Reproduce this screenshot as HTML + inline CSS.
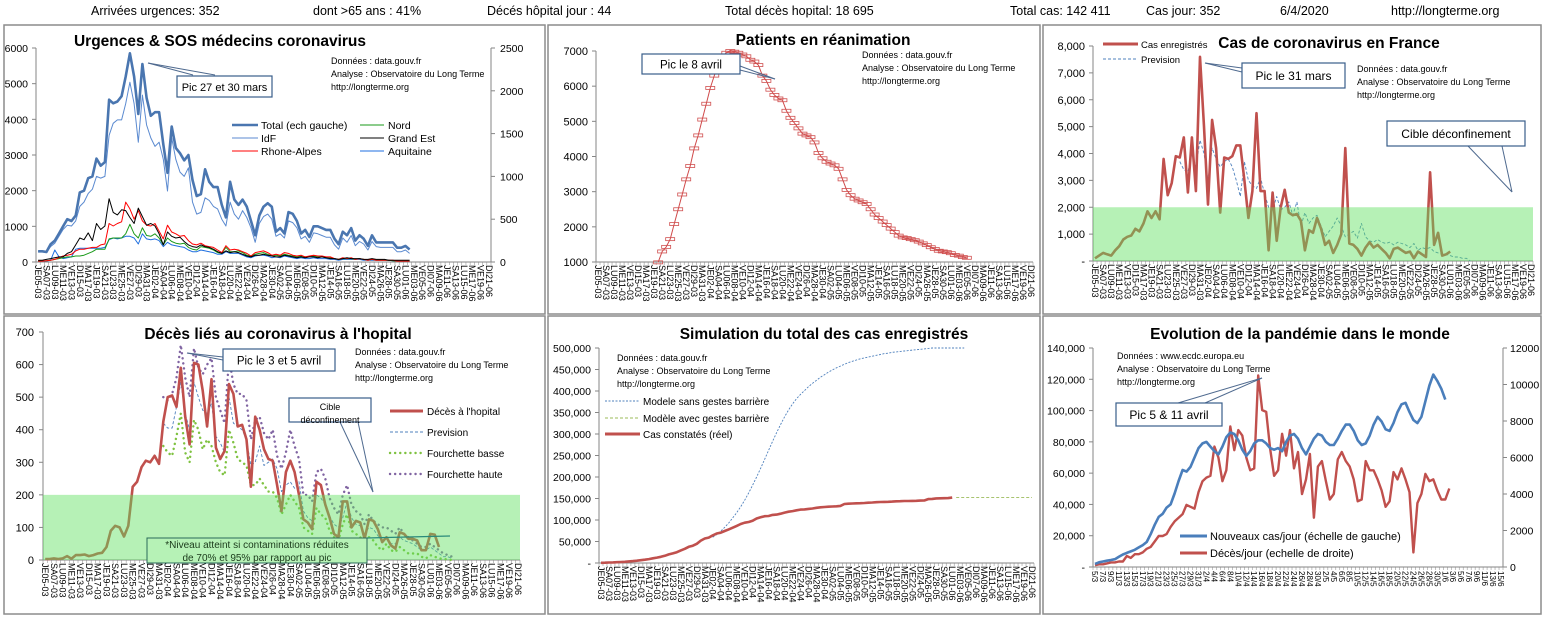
<!DOCTYPE html>
<html><head><meta charset="utf-8"><style>
html,body{margin:0;padding:0;background:#fff;}
svg{display:block;font-family:"Liberation Sans",sans-serif;}
</style></head><body>
<svg id="s" width="1546" height="619" viewBox="0 0 1546 619" xmlns="http://www.w3.org/2000/svg">
<g font-size="12.5" fill="#000">
<text x="91" y="15">Arrivées urgences:  352</text>
<text x="313" y="15">dont &gt;65 ans : 41%</text>
<text x="487" y="15">Décés hôpital jour :  44</text>
<text x="725" y="15">Total décès hopital:  18 695</text>
<text x="1010" y="15">Total cas:  142 411</text>
<text x="1146" y="15">Cas jour:  352</text>
<text x="1280" y="15">6/4/2020</text>
<text x="1391" y="15">http://longterme.org</text>
</g>
</svg>
<script>
// ---------- data ----------
const dayNames=["DI","LU","MA","ME","JE","VE","SA"];
const nDays=109;
const urgTotal=[300,300,280,500,600,800,1000,1200,1150,1300,1950,2000,2350,2400,2900,2700,2800,4550,4450,4500,4650,5200,5850,5200,4150,5550,4600,4100,4200,4200,3300,2500,3800,3200,3050,2850,3000,2300,1850,1900,2600,2250,2100,2100,1600,1250,2250,1750,1600,1750,1550,1150,750,1300,1550,1650,1550,850,950,800,1400,1350,1150,800,900,700,1000,1000,950,900,900,650,500,850,750,950,600,750,650,450,750,550,550,550,550,550,400,400,450,350];
const urgIdf=[120,120,110,180,220,300,380,430,420,480,650,700,800,850,1000,980,1000,1480,1620,1660,1660,1850,2100,1850,1400,1950,1600,1450,1350,1400,1200,830,1450,1200,1050,1000,1100,700,560,580,750,720,650,620,500,420,700,560,500,600,520,400,230,450,530,560,500,300,330,280,480,460,400,270,300,230,340,330,310,290,290,200,150,280,230,310,190,240,210,140,240,180,170,170,170,170,120,120,140,100];
const urgRhone=[10,10,15,20,30,50,70,80,90,130,150,150,160,170,170,200,210,450,420,450,470,700,620,500,600,480,430,420,450,360,270,430,350,330,300,310,250,210,200,220,190,180,170,140,110,190,140,150,140,120,100,70,110,120,130,110,80,90,80,110,100,80,70,80,60,70,80,70,70,60,60,40,30,50,40,50,30,40,30,20,30,20,20,20,20,20,10,10,10,10];
const urgGrandEst=[20,20,30,40,50,60,60,100,120,200,280,260,340,250,450,380,420,740,580,550,610,600,520,450,630,530,430,450,420,330,200,350,300,280,290,240,200,180,170,200,180,170,150,120,100,130,110,120,110,90,70,60,80,80,90,80,70,60,60,80,70,60,50,60,50,60,60,50,60,50,40,40,30,40,50,40,40,40,30,30,40,30,30,30,20,20,20,20,20,20];
const urgNord=[10,10,15,20,30,40,50,60,60,70,70,80,100,120,150,150,150,270,280,280,280,330,440,330,280,400,310,300,330,280,200,280,240,220,210,220,170,150,140,180,170,160,140,110,100,170,120,120,130,110,80,70,90,100,110,90,70,80,70,90,80,70,60,70,60,60,70,60,60,50,50,40,30,40,40,40,30,40,30,20,30,20,20,20,20,15,10,10,10,10];
const urgAquitaine=[10,10,10,20,140,60,40,50,60,150,160,160,160,160,160,160,170,260,280,270,280,300,300,280,210,330,270,260,270,250,180,230,200,190,180,170,140,120,120,140,130,120,110,90,90,120,100,100,100,80,60,50,70,80,80,70,50,60,50,70,60,50,40,50,40,40,50,40,40,40,30,30,20,30,30,30,30,30,20,20,20,20,20,20,20,15,10,10,10,10];
const reaStart=15;
const reaVals=[990,1300,1430,1650,2080,2500,2920,3350,3730,4230,4600,5050,5500,5950,6300,6600,6850,6950,7000,6980,6950,6900,6850,6750,6700,6600,6300,6150,5900,5750,5650,5600,5300,5100,4950,4800,4650,4600,4550,4400,4100,3950,3850,3800,3750,3650,3350,3050,2900,2800,2750,2700,2650,2500,2350,2250,2150,2050,1950,1850,1750,1700,1680,1650,1620,1580,1530,1480,1420,1370,1320,1300,1280,1250,1200,1180,1140,1120];
const casVals=[100,200,300,250,200,400,550,800,900,950,1200,1100,1400,1850,1600,1850,1550,3800,2450,2900,3900,3850,4600,2550,4600,2600,7600,5000,2100,5250,4200,1800,3850,3800,3900,4300,4300,3000,1600,2600,5500,2600,2600,400,2550,750,2000,2650,1800,1700,1750,1500,400,1150,1050,1600,1200,600,750,300,600,1000,4200,650,600,450,200,500,700,500,600,450,300,100,450,500,400,300,350,100,350,250,150,3300,600,1050,200,250,350];
const casPrevStart=21;
const casPrev=[3700,3400,3300,4000,3500,4500,4000,3000,4200,3800,3500,3700,3800,3500,3000,2400,3700,3000,2800,2700,3100,2500,2000,1900,2400,1900,2000,2200,1700,2200,1300,1800,1400,1600,1700,1300,900,1100,1300,1600,1300,900,1000,1100,850,1400,900,750,700,800,700,650,700,600,700,650,600,500,650,400,500,450,500,350,300,250,250,200,150,150,100,100,0];
const decesVals=[3,3,5,3,5,12,4,15,15,17,12,15,20,22,40,90,105,100,72,105,225,240,285,305,300,320,295,425,500,505,470,590,440,355,605,600,520,410,555,345,310,335,540,510,410,415,370,225,440,400,340,310,305,230,150,270,305,270,200,125,115,95,240,230,170,130,80,70,180,180,100,120,115,65,125,120,95,55,70,45,35,85,80,65,65,60,30,30,80,78,40];
const decesBandStart=27;
const decesPrev=[420,405,405,470,545,450,400,545,500,460,450,480,380,360,330,500,420,410,400,370,290,300,350,290,300,310,280,210,230,240,220,240,150,130,120,200,190,170,135,110,100,130,180,130,110,105,80,100,95,75,60,70,50,50,70,60,55,50,40,30,30,40,30,20,10,10,5];
const decesBasse=[350,330,320,380,450,330,300,430,400,340,370,350,300,270,260,400,360,310,300,290,230,230,250,230,210,210,190,140,170,200,180,160,100,90,80,160,140,130,90,70,60,110,140,90,80,70,50,70,60,40,30,50,30,25,40,30,20,20,20,10,5,15,10,5,3,2,0];
const decesHaute=[500,490,510,560,660,560,500,650,590,570,600,620,500,460,420,620,540,510,510,490,370,430,440,390,370,400,320,280,330,400,350,310,200,200,180,270,280,250,190,160,140,200,230,170,150,140,110,140,120,110,100,100,90,80,100,80,70,60,50,40,40,50,40,30,20,15,10];
const simReel=[400,700,1100,1400,1800,2300,2900,3700,4500,5400,6600,7700,9100,10900,12600,14500,16700,19900,22300,25200,29200,33000,37600,40200,44600,52100,56900,59100,64300,68600,70500,74400,78200,82000,86300,90600,93800,95400,98100,103600,106200,108800,109300,111800,112600,114700,117300,119200,120800,122500,124100,124600,125800,126800,128400,129600,130200,130900,131300,131900,132900,137100,137800,138400,138900,139100,139500,140200,140700,141300,141900,142000,142400,142900,143400,143800,144100,144200,144500,144600,145000,145300,148600,149100,150200,150400,150700,151000,152000];
const simSansStart=28;
const simSans=[60000,66000,74000,83000,93000,105000,117000,131000,146000,163000,181000,200000,220000,241000,262000,283000,303000,322000,340000,356000,370000,382000,392000,401000,410000,418000,425000,432000,438000,444000,449000,454000,458000,462000,466000,469000,472000,475000,477000,479000,481000,483000,485000,487000,488000,490000,491000,492000,493000,494000,495000,496000,497000,498000,499000,500000,500000,500000,500000,500000,500000,500000,500000,500000];
const simAvecStart=89;
const simAvec=[152000,152000,152000,152000,152000,152000,152000,152000,152000,152000,152000,152000,152000,152000,152000,152000,152000,152000,152000,152000];
const mondeDays=103;
const mondeCas=[2000,3000,3500,4000,4500,5000,6500,8000,9000,10000,11000,12500,14000,16000,21000,27000,32000,34000,38000,40000,47000,55000,62000,61000,64000,70000,76000,79000,80000,77000,74000,72000,77000,83000,86000,85000,81000,75000,71000,74000,79000,81000,81000,79000,76000,75000,76000,74000,80000,84000,85000,82000,76000,72000,77000,82000,85000,84000,80000,78000,78000,82000,87000,91000,91000,87000,81000,78000,79000,84000,91000,96000,93000,88000,87000,92000,99000,104000,105000,99000,94000,92000,96000,106000,116000,123000,119000,114000,107000];
const mondeDeces=[100,150,150,200,250,250,300,300,600,500,700,700,800,1000,1100,1400,1700,1700,1800,2200,2500,2700,2900,3400,3300,3200,4100,4700,4900,5000,6600,6000,4700,5300,7700,6400,7500,7200,6000,5300,5400,10500,8600,8500,6500,5000,5300,7300,6100,7500,5400,6300,4000,4800,6200,2700,5500,5800,4700,3700,4000,5900,6300,5800,5500,4800,3600,3700,5800,5300,5300,4800,4200,3300,3600,5200,4800,5400,4800,4100,800,3500,4000,5100,4700,4800,4200,3700,3700,4300];

// ---------- helpers ----------
const svg=document.getElementById('s');
const NS="http://www.w3.org/2000/svg";
function el(tag,attrs,parent,txt){const e=document.createElementNS(NS,tag);for(const k in attrs)e.setAttribute(k,attrs[k]);if(txt!==undefined)e.textContent=txt;(parent||svg).appendChild(e);return e;}
function grp(name){const g=el('g',{});return g;}
function fmt(v){return v.toString().replace(/\B(?=(\d{3})+(?!\d))/g,",");}
function X(p,i){return p.x0+(i+0.5)*(p.x1-p.x0)/p.n;}
function Y(p,v,ax){const a=ax||p.l;return p.yb-(v-a.min)/(a.max-a.min)*(p.yb-p.yt);}
function series(p,vals,start,ax,attrs,name){
  let d="";vals.forEach((v,i)=>{d+=(i?"L":"M")+X(p,start+i).toFixed(1)+","+Y(p,v,ax).toFixed(1);});
  const a=Object.assign({d:d,fill:"none","stroke-linejoin":"round"},attrs);
  const e=el('path',a,p.g);
  
  
  return e;
}
function frame(name,x,y,w,h){const g=grp(name);
  const r=el('rect',{x:x,y:y,width:w,height:h,fill:"#fff",stroke:"#8c8c8c","stroke-width":1.5},g);
  return g;}
function axes(p,name,opts){
  const g=p.g;
  const ax=el('line',{x1:p.x0,y1:p.yt,x2:p.x0,y2:p.yb,stroke:"#868686"},g);
  
  const bx=el('line',{x1:p.x0,y1:p.yb,x2:p.x1,y2:p.yb,stroke:"#868686"},g);
  
  for(let v=p.l.min;v<=p.l.max+1e-6;v+=p.l.step){
    const y=Y(p,v);
    el('line',{x1:p.x0-4,y1:y,x2:p.x0,y2:y,stroke:"#868686"},g);
    const t=el('text',{x:p.x0-opts.lpad,y:y+4,"text-anchor":"end","font-size":opts.fs||11},g,opts.lfmt(v));
    
  }
  if(p.r){
    const rx=el('line',{x1:p.x1,y1:p.yt,x2:p.x1,y2:p.yb,stroke:"#868686"},g);
    
    for(let v=p.r.min;v<=p.r.max+1e-6;v+=p.r.step){
      const y=Y(p,v,p.r);
      el('line',{x1:p.x1,y1:y,x2:p.x1+4,y2:y,stroke:"#868686"},g);
      const t=el('text',{x:p.x1+opts.rpad,y:y+4,"font-size":opts.fs||11},g,String(v));
      
    }
  }
  for(let i=0;i<=p.n;i++){const x=p.x0+i*(p.x1-p.x0)/p.n;el('line',{x1:x,y1:p.yb,x2:x,y2:p.yb+3,stroke:"#868686","stroke-width":0.5},g);}
}
function dateLabels(p,fs){
  for(let i=0;i<p.n;i+=2){
    const d=new Date(2020,2,5+i);
    const lab=dayNames[d.getDay()]+String(d.getDate()).padStart(2,"0")+"-"+String(d.getMonth()+1).padStart(2,"0");
    const x=X(p,i)-3,y=p.yb+3;
    const t=el('text',{x:0,y:0,transform:`translate(${x.toFixed(1)},${y}) rotate(90)`,"font-size":fs||9},p.g,lab);
    
  }
}
function txt(g,x,y,s,name,attrs){const t=el('text',Object.assign({x:x,y:y},attrs||{}),g,s);return t;}
function info(g,x,y,l1){txt(g,x,y,l1||"Données : data.gouv.fr","source-note",{"font-size":9});txt(g,x,y+13,"Analyse : Observatoire du Long Terme","analysis-note",{"font-size":9});txt(g,x,y+26,"http://longterme.org","url-note",{"font-size":9});}
function callout(g,x,y,w,h,lines,ptrs,name,fs){
  ptrs.forEach(pp=>el('polyline',{points:pp,fill:"none",stroke:"#4f6a8f","stroke-width":1},g));
  const r=el('rect',{x:x,y:y,width:w,height:h,fill:"#fff",stroke:"#385d8a","stroke-width":1.2},g);
  
  lines.forEach((s,i)=>txt(g,x+w/2,y+(lines.length==1?h/2+4.5:12+i*13),s,name+'-text',{"text-anchor":"middle","font-size":fs||12}));
}
function band(p,v0,v1,name,x1){const r=el('rect',{x:p.x0,y:Y(p,v1),width:(x1||p.x1)-p.x0,height:Y(p,v0)-Y(p,v1),fill:"#5ee05e","fill-opacity":0.45},p.g);}
function legLine(g,x1,x2,y,attrs,label,tx,fs,name){el('line',Object.assign({x1:x1,y1:y,x2:x2,y2:y},attrs),g);txt(g,tx,y+4,label,name,{"font-size":fs||11});}

// ---------- Panel 1: urgences ----------
{const g=frame('urgences-chart',4,25,541,289);
 const p={g:g,x0:36,x1:491,yt:48,yb:262,n:nDays,l:{min:0,max:6000,step:1000},r:{min:0,max:2500,step:500}};
 axes(p,'urgences',{lpad:8,rpad:9,lfmt:v=>String(v),fs:10.5});dateLabels(p,9);
 series(p,urgAquitaine,0,p.r,{stroke:"#1f6fe0","stroke-width":1},'line-aquitaine');
 series(p,urgNord,0,p.r,{stroke:"#1a9a1a","stroke-width":1},'line-nord');
 series(p,urgRhone,0,p.r,{stroke:"#ff0000","stroke-width":1},'line-rhone-alpes');
 series(p,urgGrandEst,0,p.r,{stroke:"#000","stroke-width":1},'line-grand-est');
 series(p,urgIdf,0,p.r,{stroke:"#5b8ad0","stroke-width":1},'line-idf');
 series(p,urgTotal,0,p.l,{stroke:"#4a76b0","stroke-width":2.6},'line-total');
 txt(g,220,46,"Urgences & SOS médecins coronavirus",'chart-title',{"text-anchor":"middle","font-size":15.5,"font-weight":"bold"});
 info(g,331,64);
 callout(g,177,76,95,21,["Pic 27 et 30 mars"],["148,63 193,75","148,63 215,75"],'peak-callout',11);
 const lg=grp('urgences-legend');
 legLine(lg,232,258,125,{stroke:"#4a76b0","stroke-width":2.6},"Total (ech gauche)",261,10.5,'legend-total');
 legLine(lg,232,258,138,{stroke:"#5b8ad0","stroke-width":1},"IdF",261,10.5,'legend-idf');
 legLine(lg,232,258,151,{stroke:"#ff0000","stroke-width":1},"Rhone-Alpes",261,10.5,'legend-rhone-alpes');
 legLine(lg,360,384,125,{stroke:"#1a9a1a","stroke-width":1},"Nord",388,10.5,'legend-nord');
 legLine(lg,360,384,138,{stroke:"#000","stroke-width":1},"Grand Est",388,10.5,'legend-grand-est');
 legLine(lg,360,384,151,{stroke:"#1f6fe0","stroke-width":1},"Aquitaine",388,10.5,'legend-aquitaine');
}
// ---------- Panel 2: réanimation ----------
{const g=frame('reanimation-chart',548,25,492,289);
 const p={g:g,x0:596,x1:1033,yt:51,yb:262,n:nDays,l:{min:1000,max:7000,step:1000}};
 axes(p,'reanimation',{lpad:8,lfmt:v=>String(v),fs:11});dateLabels(p,9);
 series(p,reaVals,reaStart,p.l,{stroke:"#d04a4a","stroke-width":1},'line-reanimation');
 reaVals.forEach((v,i)=>{const m=el('rect',{x:X(p,reaStart+i)-4.5,y:Y(p,v)-1.5,width:9,height:3,fill:"none",stroke:"#d05050","stroke-width":0.8},g);
   
   });
 txt(g,823,45,"Patients en réanimation",'chart-title',{"text-anchor":"middle","font-size":15.5,"font-weight":"bold"});
 info(g,862,58);
 callout(g,642,54,98,20,["Pic le 8 avril"],["740,66 775,79","740,70 775,79"],'peak-callout',11.5);
}
// ---------- Panel 3: cas France ----------
{const g=frame('cas-france-chart',1043,25,498,289);
 const p={g:g,x0:1093,x1:1533,yt:46,yb:261,n:nDays,l:{min:0,max:8000,step:1000}};
 axes(p,'cas-france',{lpad:8,lfmt:v=>v?fmt(v):"-",fs:11});dateLabels(p,9);
 series(p,casPrev,casPrevStart,p.l,{stroke:"#4f81bd","stroke-width":0.9,"stroke-dasharray":"3,2"},'line-prevision');
 series(p,casVals,0,p.l,{stroke:"#c0504d","stroke-width":2.6},'line-cas-enregistres');
 band(p,0,2000,'target-band');
 txt(g,1329,48,"Cas de coronavirus en France",'chart-title',{"text-anchor":"middle","font-size":15.5,"font-weight":"bold"});
 const lg=grp('cas-legend');
 legLine(lg,1103,1138,44,{stroke:"#c0504d","stroke-width":3},"Cas enregistrés",1141,9.5,'legend-cas');
 legLine(lg,1103,1138,59,{stroke:"#4f81bd","stroke-width":0.9,"stroke-dasharray":"3,2"},"Prevision",1141,9.5,'legend-prevision');
 info(g,1357,72);
 callout(g,1242,63,103,25,["Pic le 31  mars"],["1205,63 1242,72","1205,63 1242,68"],'peak-callout',12);
 callout(g,1387,121,138,25,["Cible déconfinement"],["1468,146 1512,192","1502,146 1512,192"],'target-callout',12);
}
// ---------- Panel 4: décès ----------
{const g=frame('deces-chart',4,316,541,298);
 const p={g:g,x0:43,x1:520,yt:332,yb:560,n:nDays,l:{min:0,max:700,step:100}};
 axes(p,'deces',{lpad:9,lfmt:v=>String(v),fs:11});dateLabels(p,9);
 series(p,decesBasse,decesBandStart,p.l,{stroke:"#7fc241","stroke-width":2.4,"stroke-dasharray":"0.1,5","stroke-linecap":"round"},'line-fourchette-basse');
 series(p,decesHaute,decesBandStart,p.l,{stroke:"#8064a2","stroke-width":2.4,"stroke-dasharray":"0.1,5","stroke-linecap":"round"},'line-fourchette-haute');
 series(p,decesPrev,decesBandStart,p.l,{stroke:"#4f81bd","stroke-width":0.9,"stroke-dasharray":"3,2"},'line-prevision');
 series(p,decesVals,0,p.l,{stroke:"#c0504d","stroke-width":2.6},'line-deces');
 band(p,0,200,'target-band');
 txt(g,278,339,"Décès liés au coronavirus à l'hopital",'chart-title',{"text-anchor":"middle","font-size":15.5,"font-weight":"bold"});
 info(g,355,355);
 callout(g,223,349,112,22,["Pic le 3 et 5 avril"],["187,353 223,360","187,353 223,357"],'peak-callout',11.5);
 callout(g,289,398,82,24,["Cible","déconfinement"],["340,422 373,492","358,422 373,492"],'target-callout',9);
 const lg=grp('deces-legend');
 legLine(lg,390,423,411,{stroke:"#c0504d","stroke-width":3},"Décès à l'hopital",427,10,'legend-deces');
 legLine(lg,390,423,432,{stroke:"#4f81bd","stroke-width":0.9,"stroke-dasharray":"3,2"},"Prevision",427,10,'legend-prevision');
 legLine(lg,390,423,453,{stroke:"#7fc241","stroke-width":2.4,"stroke-dasharray":"0.1,5","stroke-linecap":"round"},"Fourchette basse",427,10,'legend-basse');
 legLine(lg,390,423,474,{stroke:"#8064a2","stroke-width":2.4,"stroke-dasharray":"0.1,5","stroke-linecap":"round"},"Fourchette haute",427,10,'legend-haute');
 el('line',{x1:367,y1:538,x2:450,y2:536,stroke:"#2a8a7a","stroke-width":1.2},g);
 const nb=el('rect',{x:147,y:538,width:220,height:25,fill:"#b6f2b6",stroke:"#2a6a5a","stroke-width":1},g);
 
 txt(g,257,548,"*Niveau atteint si contaminations réduites",'note-text',{"text-anchor":"middle","font-size":10,fill:"#1a3a1a"});
 txt(g,257,561,"de 70% et 95% par rapport au pic",'note-text',{"text-anchor":"middle","font-size":10,fill:"#1a3a1a"});
}
// ---------- Panel 5: simulation ----------
{const g=frame('simulation-chart',548,316,492,298);
 const p={g:g,x0:599,x1:1034,yt:348,yb:563,n:nDays,l:{min:0,max:500000,step:50000}};
 axes(p,'simulation',{lpad:8,lfmt:v=>v?fmt(v):"-",fs:10.5});dateLabels(p,9);
 series(p,simSans,simSansStart,p.l,{stroke:"#4f81bd","stroke-width":0.9,"stroke-dasharray":"2,1.5"},'line-modele-sans-gestes');
 series(p,simAvec,simAvecStart,p.l,{stroke:"#9bbb59","stroke-width":0.9,"stroke-dasharray":"3,2"},'line-modele-avec-gestes');
 series(p,simReel,0,p.l,{stroke:"#c0504d","stroke-width":2.6},'line-cas-constates');
 txt(g,824,339,"Simulation du total des cas enregistrés",'chart-title',{"text-anchor":"middle","font-size":15.5,"font-weight":"bold"});
 info(g,617,361);
 const lg=grp('simulation-legend');
 legLine(lg,605,640,401,{stroke:"#4f81bd","stroke-width":0.9,"stroke-dasharray":"2,1.5"},"Modele sans gestes barrière",643,10,'legend-sans');
 legLine(lg,605,640,418,{stroke:"#9bbb59","stroke-width":0.9,"stroke-dasharray":"3,2"},"Modèle avec gestes barrière",643,10,'legend-avec');
 legLine(lg,605,640,434,{stroke:"#c0504d","stroke-width":3},"Cas constatés (réel)",643,10,'legend-reel');
}
// ---------- Panel 6: monde ----------
{const g=frame('monde-chart',1043,316,498,298);
 const p={g:g,x0:1093,x1:1503,yt:348,yb:567,n:mondeDays,l:{min:0,max:140000,step:20000},r:{min:0,max:12000,step:2000}};
 axes(p,'monde',{lpad:8,rpad:7,lfmt:v=>v?fmt(v):"-",fs:10.5});
 for(let i=0;i<p.n;i+=2){const d=new Date(2020,2,5+i);
   const t=el('text',{x:0,y:0,transform:`translate(${(X(p,i)-3).toFixed(1)},${p.yb+4}) rotate(90)`,"font-size":8},g,d.getDate()+"/"+(d.getMonth()+1));
   
   }
 series(p,mondeDeces,0,p.r,{stroke:"#c0504d","stroke-width":2.4},'line-deces-jour');
 series(p,mondeCas,0,p.l,{stroke:"#4a7ebb","stroke-width":2.6},'line-nouveaux-cas');
 txt(g,1300,339,"Evolution de la pandémie dans le monde",'chart-title',{"text-anchor":"middle","font-size":15.5,"font-weight":"bold"});
 info(g,1117,359,"Données : www.ecdc.europa.eu");
 callout(g,1116,403,106,23,["Pic  5 & 11 avril"],["1178,403 1262,378","1205,403 1262,378"],'peak-callout',12);
 const lg=grp('monde-legend');
 legLine(lg,1180,1207,536,{stroke:"#4a7ebb","stroke-width":3},"Nouveaux cas/jour  (échelle de gauche)",1210,11,'legend-cas');
 legLine(lg,1180,1207,553,{stroke:"#c0504d","stroke-width":3},"Décès/jour (echelle de droite)",1210,11,'legend-deces');
}
</script>
</body></html>
